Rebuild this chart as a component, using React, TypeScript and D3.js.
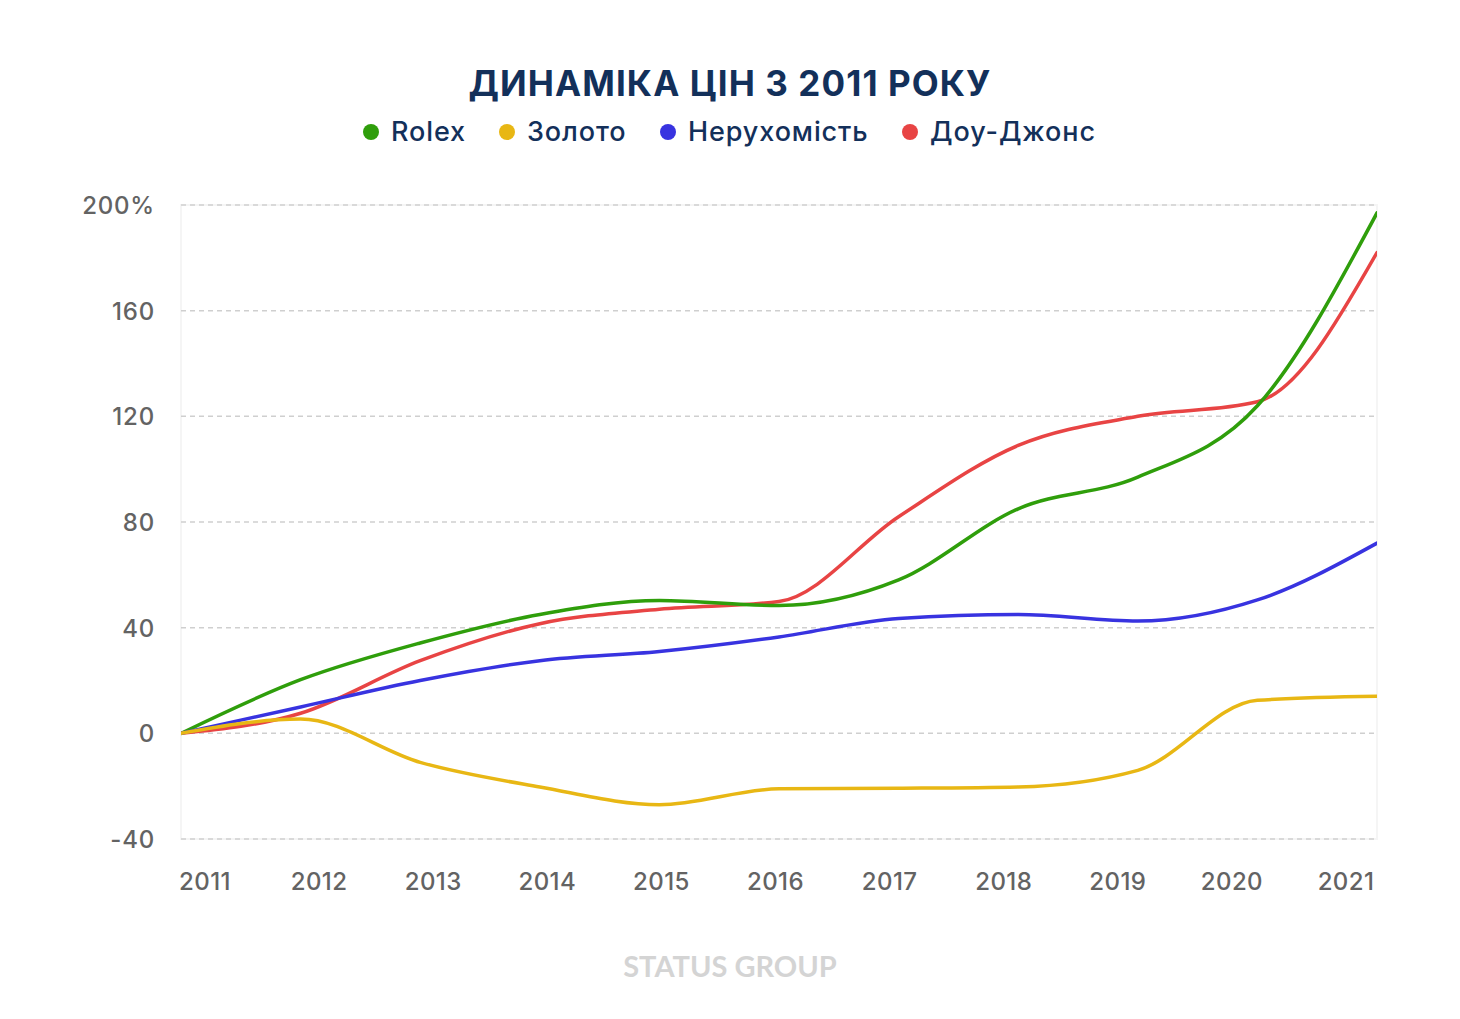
import React from 'react';
import * as d3 from 'd3';

const years = ['2011', '2012', '2013', '2014', '2015', '2016', '2017', '2018', '2019', '2020', '2021'];
const rolex = [0, 20.3, 34.2, 45, 50.3, 48.4, 58.1, 85, 97, 124, 197];
const gold = [0, 5.4, -11, -20.3, -27, -21, -20.8, -20.3, -14, 12.5, 14];
const realty = [0, 10, 20, 27.5, 31, 36.5, 43.5, 45, 42.5, 50.5, 72];
const dow = [0, 7.6, 27.5, 41.5, 47, 49.9, 82, 109, 120, 125.5, 182];
const yTicks = [-40, 0, 40, 80, 120, 160, 200];
const seriesNames = ['Rolex', 'Золото', 'Нерухомість', 'Доу-Джонс'];
const seriesColors = ['#2f9e0b', '#e8b714', '#3833e0', '#e84444'];
const titleText = 'ДИНАМІКА ЦІН З 2011 РОКУ';
const watermarkText = 'STATUS GROUP';

const W = 1460;
const H = 1019;
const left = 181;
const right = 1377;
const top = 205;
const bottom = 839;

export default function App() {
  const x = d3.scalePoint<string>().domain(years).range([left, right]);
  const xLabel = d3.scalePoint<string>().domain(years).range([205, 1346]);
  const y = d3.scaleLinear().domain([-40, 200]).range([bottom, top]);
  const line = d3
    .line<number>()
    .x((_, i) => x(years[i]) as number)
    .y((d) => y(d))
    .curve(d3.curveMonotoneX);

  const series = [rolex, gold, realty, dow];
  const drawOrder = [3, 0, 2, 1];
  const legendX = [371, 507, 668, 910];
  const font = 'Inter, "Noto Sans", sans-serif';

  return (
    <svg
      width={W}
      height={H}
      style={{ position: 'absolute', left: 0, top: 0, background: '#fff' }}
    >
      <defs>
        <clipPath id="plotClip">
          <rect x={left} y={top - 10} width={right - left} height={bottom - top + 20} />
        </clipPath>
      </defs>
      <rect x={0} y={0} width={W} height={H} fill="#fff" />
      <text
        x={730}
        y={96}
        textAnchor="middle"
        fontFamily={font}
        fontWeight={700}
        fontSize={35}
        letterSpacing={1.1}
        fill="#13305a"
      >
        {titleText}
      </text>
      {seriesNames.map((n, i) => (
        <g key={n}>
          <circle cx={legendX[i]} cy={132} r={8} fill={seriesColors[i]} />
          <text
            x={legendX[i] + 20}
            y={141}
            fontFamily={font}
            fontWeight={500}
            fontSize={27}
            letterSpacing={0.9}
            fill="#13305a"
          >
            {n}
          </text>
        </g>
      ))}
      <rect x={left} y={top} width={right - left} height={bottom - top} fill="#fff" stroke="#f5f5f5" strokeWidth={2} />
      {yTicks.map((t) => (
        <g key={t}>
          <line
            x1={left}
            x2={right}
            y1={y(t)}
            y2={y(t)}
            stroke="#cfcfcf"
            strokeWidth={1.5}
            strokeDasharray="5,4"
          />
          <text
            x={155}
            y={y(t) + 9}
            textAnchor="end"
            fontFamily={font}
            fontWeight={500}
            fontSize={24}
            letterSpacing={0.8}
            fill="#636363"
          >
            {t === 200 ? `${t}%` : `${t}`}
          </text>
        </g>
      ))}
      {years.map((yr) => (
        <text
          key={yr}
          x={xLabel(yr)}
          y={890}
          textAnchor="middle"
          fontFamily={font}
          fontWeight={500}
          fontSize={24}
          letterSpacing={0.4}
          fill="#636363"
        >
          {yr}
        </text>
      ))}
      <g clipPath="url(#plotClip)">
        {drawOrder.map((i) => (
          <path
            key={i}
            d={line(series[i]) || ''}
            fill="none"
            stroke={seriesColors[i]}
            strokeWidth={3.5}
            strokeLinejoin="round"
            strokeLinecap="round"
          />
        ))}
      </g>
      <text
        x={730}
        y={977}
        textAnchor="middle"
        fontFamily='"Lato", "Liberation Sans", sans-serif'
        fontWeight={700}
        fontSize={29}
        fill="#d4d4d4"
      >
        {watermarkText}
      </text>
    </svg>
  );
}
